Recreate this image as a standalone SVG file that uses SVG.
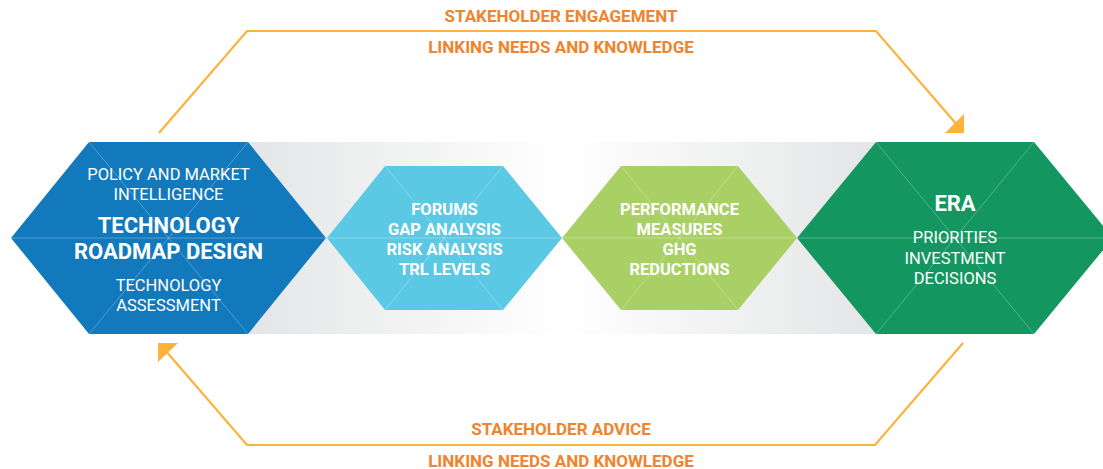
<svg xmlns="http://www.w3.org/2000/svg" width="1103" height="469" viewBox="0 0 1103 469">
<defs>
<linearGradient id="band" x1="0" y1="0" x2="1" y2="0">
<stop offset="0" stop-color="#e4e5e6"/>
<stop offset="0.5" stop-color="#ffffff"/>
<stop offset="1" stop-color="#e4e5e6"/>
</linearGradient>
</defs>
<style>
.inner{stroke:#ffffff;stroke-opacity:0.35;stroke-width:0.8;fill:none}
.t{font-family:Roboto,"Liberation Sans",sans-serif;fill:#ffffff;text-anchor:middle}
.r{font-size:16.5px;font-weight:400}
.b{font-size:16.5px;font-weight:700}
.big{font-size:22px;font-weight:700}
.lbl{font-family:Roboto,"Liberation Sans",sans-serif;fill:#f0832d;font-size:17px;font-weight:700;text-anchor:middle}
.con{fill:none;stroke:#fbb33a;stroke-width:2.2}
.head{fill:#fbb33a}
</style>
<rect width="1103" height="469" fill="#ffffff"/>
<rect x="248" y="142" width="630" height="192" fill="url(#band)"/>

<g id="connectors">
<polyline class="con" points="159,133 247,31 876,31 958,126"/>
<polygon class="head" points="945,133 964,133 964,114"/>
<polyline class="con" points="963,343 875,445 247,445 165,350"/>
<polygon class="head" points="158,343 178,343 158,362"/>
</g>

<g id="trd">
<polygon points="11,238 89,142 248,142 326,238 248,334 89,334" fill="#1279bd"/>
<path class="inner" d="M89,142 L248,334 M248,142 L89,334 M11,238 L326,238"/>
<text class="t r" x="168.5" y="180">POLICY AND MARKET</text>
<text class="t r" x="168.5" y="200">INTELLIGENCE</text>
<text class="t big" x="168.5" y="233">TECHNOLOGY</text>
<text class="t big" x="168.5" y="259">ROADMAP DESIGN</text>
<text class="t r" x="168.5" y="291">TECHNOLOGY</text>
<text class="t r" x="168.5" y="311">ASSESSMENT</text>
</g>

<g id="forums">
<polygon points="327,238 385,166 503,166 562,238 503,310 385,310" fill="#5bc9e3"/>
<path class="inner" d="M385,166 L503,310 M503,166 L385,310 M327,238 L562,238"/>
<text class="t b" x="444.5" y="215">FORUMS</text>
<text class="t b" x="444.5" y="235">GAP ANALYSIS</text>
<text class="t b" x="444.5" y="255">RISK ANALYSIS</text>
<text class="t b" x="444.5" y="275">TRL LEVELS</text>
</g>

<g id="performance">
<polygon points="562,238 621,166 738,166 797,238 738,310 621,310" fill="#a9d064"/>
<path class="inner" d="M621,166 L738,310 M738,166 L621,310 M562,238 L797,238"/>
<text class="t b" x="679.5" y="215">PERFORMANCE</text>
<text class="t b" x="679.5" y="235">MEASURES</text>
<text class="t b" x="679.5" y="255">GHG</text>
<text class="t b" x="679.5" y="275">REDUCTIONS</text>
</g>

<g id="era">
<polygon points="797,238 876,142 1034,142 1113,238 1034,334 876,334" fill="#13965f"/>
<path class="inner" d="M876,142 L1034,334 M1034,142 L876,334 M797,238 L1113,238"/>
<text class="t big" x="955" y="211">ERA</text>
<text class="t r" x="955" y="243">PRIORITIES</text>
<text class="t r" x="955" y="264">INVESTMENT</text>
<text class="t r" x="955" y="284">DECISIONS</text>
</g>

<g id="labels">
<text class="lbl" x="561" y="22">STAKEHOLDER ENGAGEMENT</text>
<text class="lbl" x="561" y="53">LINKING NEEDS AND KNOWLEDGE</text>
<text class="lbl" x="561" y="435">STAKEHOLDER ADVICE</text>
<text class="lbl" x="561" y="467">LINKING NEEDS AND KNOWLEDGE</text>
</g>
</svg>
